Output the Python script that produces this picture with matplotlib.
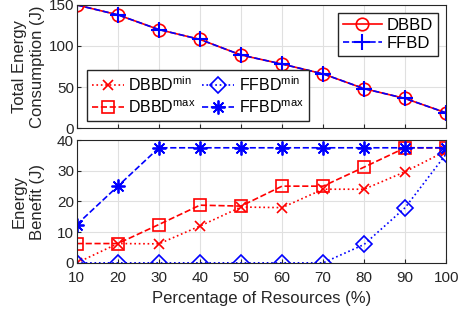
import matplotlib
matplotlib.use('Agg')

import matplotlib.pyplot as plt

plt.rcParams['font.family'] = ['Liberation Sans', 'DejaVu Sans']

res = [10, 20, 30, 40, 50, 60, 70, 80, 90, 100]

# total energy consumption (J)
dbbd = [150, 138, 120, 108, 89, 78, 66, 48, 36, 18.5]
ffbd = [150, 138, 120, 108, 89, 78, 66, 48, 36, 18.5]

# energy benefit (J)
dbbd_min = [0, 6.3, 6.2, 12, 18.2, 18, 24, 24, 29.7, 36.5]
dbbd_max = [6.3, 6.3, 12.5, 18.8, 18.5, 25, 25, 31.2, 37.5, 37.5]
ffbd_min = [0, 0, 0, 0, 0, 0, 0, 6, 18, 35.5]
ffbd_max = [12.5, 25, 37.5, 37.5, 37.5, 37.5, 37.5, 37.5, 37.5, 37.5]

gray = '#262626'
star = (8, 2, 0)

fig = plt.figure(figsize=(4.6, 3.1), dpi=100)
ax1 = fig.add_axes([0.167, 0.587, 0.803, 0.397])
ax2 = fig.add_axes([0.167, 0.152, 0.803, 0.396])

ax1.plot(res, dbbd, '-o', color='red', lw=1.2, ms=9, mfc='none', mew=1.2, label='DBBD')
ax1.plot(res, ffbd, '--+', color='blue', lw=1.2, ms=11, mew=1.5, label='FFBD')

l1, = ax2.plot(res, dbbd_min, ':x', color='red', lw=1.2, ms=7, mew=1.2)
l2, = ax2.plot(res, dbbd_max, '--s', color='red', lw=1.2, ms=8, mfc='none', mew=1.2)
l3, = ax2.plot(res, ffbd_min, ':D', color='blue', lw=1.2, ms=8, mfc='none', mew=1.2)
l4, = ax2.plot(res, ffbd_max, '--', marker=star, color='blue', lw=1.2, ms=10, mew=1.3)

for ax in (ax1, ax2):
    ax.set_xlim(10, 100)
    ax.set_xticks(res)
    ax.grid(True, color='#e0e0e0', lw=0.8)
    ax.tick_params(colors=gray, labelsize=11, direction='in', length=3, pad=2)
    ax.tick_params(axis='x', pad=6)
    for s in ax.spines.values():
        s.set_color(gray)
        s.set_linewidth(0.8)

ax1.set_ylim(0, 150)
ax1.set_yticks([0, 50, 100, 150])
ax1.tick_params(labelbottom=False)
ax1.set_ylabel('Total Energy\nConsumption (J)', fontsize=12, color=gray, linespacing=1.3)
ax1.yaxis.set_label_coords(-0.085, 0.5)

ax2.set_ylim(0, 40)
ax2.set_yticks([0, 10, 20, 30, 40])
ax2.set_ylabel('Energy\nBenefit (J)', fontsize=12, color=gray, linespacing=1.3)
ax2.yaxis.set_label_coords(-0.085, 0.5)
ax2.set_xlabel('Percentage of Resources (%)', fontsize=12, color=gray, labelpad=4)

leg_top = ax1.legend(loc='upper right', borderaxespad=0.5, fontsize=12,
                     fancybox=False, edgecolor=gray, framealpha=1,
                     handlelength=2.3, borderpad=0.3, labelspacing=0.15,
                     handletextpad=0.3)
ax1.add_artist(leg_top)

ax1.legend(handles=[l1, l2, l3, l4],
           labels=['DBBD$^{\\mathregular{min}}$', 'DBBD$^{\\mathregular{max}}$',
                   'FFBD$^{\\mathregular{min}}$', 'FFBD$^{\\mathregular{max}}$'],
           ncol=2, loc='lower left', bbox_to_anchor=(0.027, 0.06),
           borderaxespad=0, fontsize=11.5, fancybox=False, edgecolor=gray,
           framealpha=1, handlelength=2.0, borderpad=0.3, labelspacing=0.35,
           handletextpad=0.3, columnspacing=0.4)

fig.savefig('out.png', dpi=100)
